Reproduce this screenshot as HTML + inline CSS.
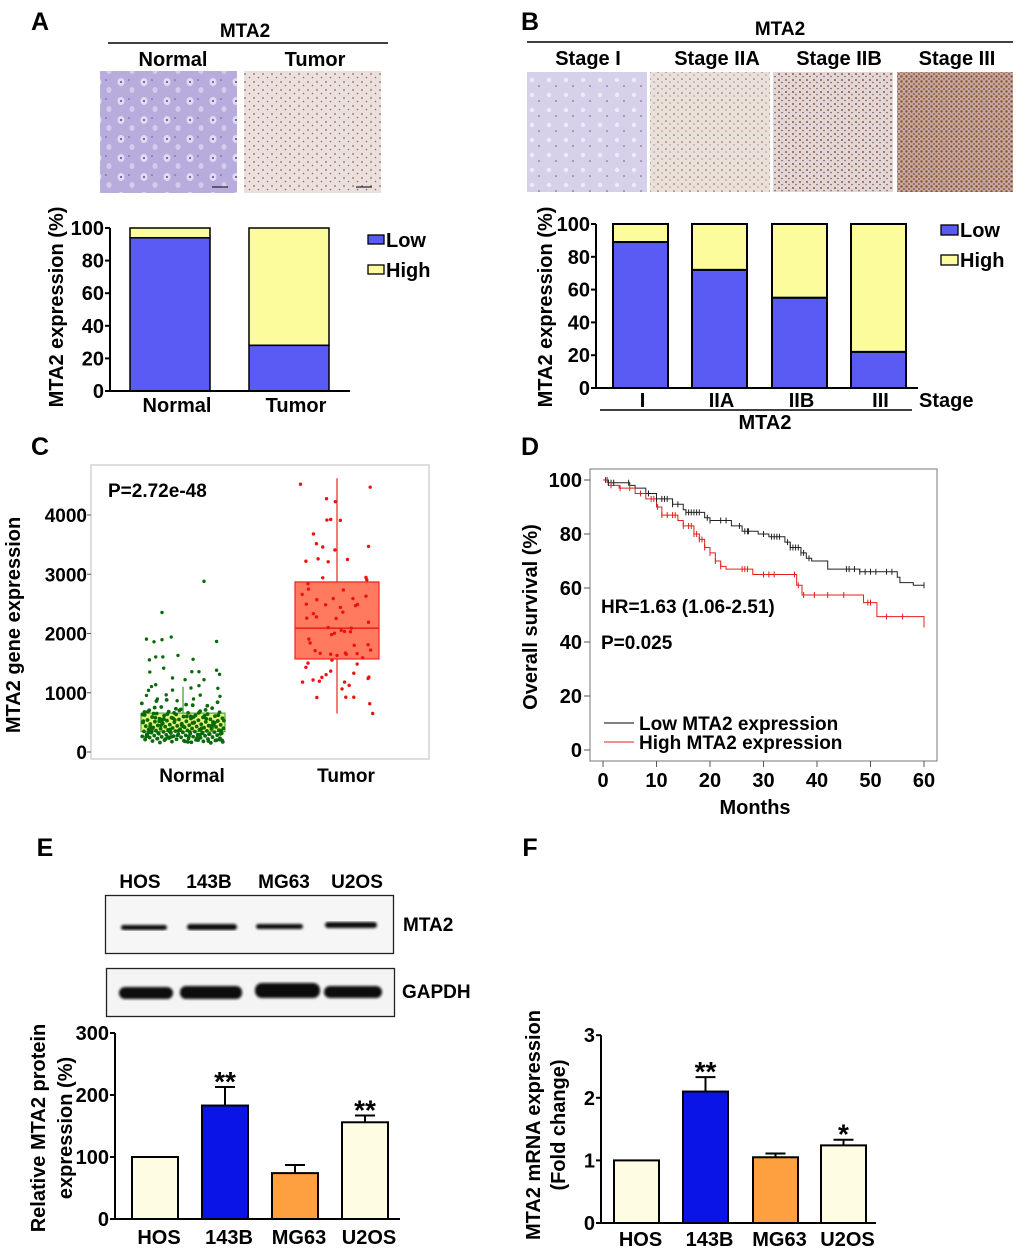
<!DOCTYPE html>
<html><head><meta charset="utf-8"><style>
html,body{margin:0;padding:0;background:#fff;}
svg{display:block;font-family:"Liberation Sans",Arial,sans-serif;font-weight:bold;}
</style></head><body>
<svg id="fig" width="1020" height="1251" viewBox="0 0 1020 1251" xmlns="http://www.w3.org/2000/svg">
<defs>
<pattern id="pNormal" width="23" height="19" patternUnits="userSpaceOnUse"><rect width="23" height="19" fill="#b7acdc"/><ellipse cx="6" cy="6" rx="3.5" ry="4" fill="#e0daf2"/><circle cx="6" cy="6" r="1" fill="#5a4a90"/><ellipse cx="17" cy="14" rx="2.5" ry="3" fill="#d4ccec"/><circle cx="14" cy="4" r="0.8" fill="#6a5aa0"/></pattern>
<pattern id="pTumor" width="9" height="8" patternUnits="userSpaceOnUse"><rect width="9" height="8" fill="#ece0dc"/><circle cx="2" cy="2" r="0.9" fill="#8a6a5a"/><circle cx="6.5" cy="5.5" r="0.8" fill="#7a6a90"/></pattern>
<pattern id="pS1" width="17" height="15" patternUnits="userSpaceOnUse"><rect width="17" height="15" fill="#d6d0ea"/><circle cx="5" cy="5" r="2.2" fill="#eeeaf8"/><circle cx="12" cy="11" r="0.8" fill="#6a5a90"/></pattern>
<pattern id="pS2" width="8" height="7" patternUnits="userSpaceOnUse"><rect width="8" height="7" fill="#eae0da"/><circle cx="2" cy="2" r="0.8" fill="#8a6050"/><circle cx="6" cy="5" r="0.6" fill="#7a6a8a"/></pattern>
<pattern id="pS3" width="7" height="6" patternUnits="userSpaceOnUse"><rect width="7" height="6" fill="#e4d6d2"/><circle cx="2" cy="2" r="1" fill="#8a5a48"/><circle cx="5" cy="4.5" r="0.8" fill="#6a5a8a"/></pattern>
<pattern id="pS4" width="5" height="5" patternUnits="userSpaceOnUse"><rect width="5" height="5" fill="#c8a898"/><circle cx="1.5" cy="1.5" r="1.2" fill="#8a5034"/><circle cx="4" cy="4" r="0.9" fill="#6a4a60"/></pattern>
<filter id="blur1"><feGaussianBlur stdDeviation="1.3"/></filter>
</defs>

<!-- Panel A header -->
<text x="40" y="30" font-size="25" text-anchor="middle">A</text>
<text x="245" y="37" font-size="19" text-anchor="middle">MTA2</text>
<line x1="108" y1="43" x2="388" y2="43" stroke="#000" stroke-width="1.5"/>
<text x="173" y="66" font-size="20" text-anchor="middle">Normal</text>
<text x="315" y="66" font-size="20" text-anchor="middle">Tumor</text>
<rect x="100" y="71" width="137" height="122" fill="url(#pNormal)"/>
<rect x="244" y="71" width="137" height="122" fill="url(#pTumor)"/>
<line x1="212" y1="187" x2="228" y2="187" stroke="#222" stroke-width="1.2"/>
<line x1="356" y1="187" x2="372" y2="187" stroke="#222" stroke-width="1.2"/>
<text transform="translate(63,307) rotate(-90)" font-size="20" text-anchor="middle">MTA2 expression (%)</text>
<g id="chartA"></g>

<!-- Panel B header -->
<text x="530" y="30" font-size="25" text-anchor="middle">B</text>
<text x="780" y="35" font-size="19" text-anchor="middle">MTA2</text>
<line x1="527" y1="42" x2="1013" y2="42" stroke="#000" stroke-width="1.5"/>
<text x="588" y="65" font-size="20" text-anchor="middle">Stage I</text>
<text x="717" y="65" font-size="20" text-anchor="middle">Stage IIA</text>
<text x="839" y="65" font-size="20" text-anchor="middle">Stage IIB</text>
<text x="957" y="65" font-size="20" text-anchor="middle">Stage III</text>
<rect x="527" y="72" width="120" height="120" fill="url(#pS1)"/>
<rect x="650" y="72" width="120" height="120" fill="url(#pS2)"/>
<rect x="773" y="72" width="120" height="120" fill="url(#pS3)"/>
<rect x="897" y="72" width="116" height="120" fill="url(#pS4)"/>
<text transform="translate(552,307) rotate(-90)" font-size="20" text-anchor="middle">MTA2 expression (%)</text>
<g id="chartB"></g>

<!-- Panel C -->
<text x="40" y="455" font-size="25" text-anchor="middle">C</text>
<rect x="91" y="465" width="338" height="294" fill="#fff" stroke="#c8c8c8" stroke-width="1.2"/>
<text x="108" y="497" font-size="19">P=2.72e-48</text>
<text transform="translate(20,625) rotate(-90)" font-size="20" text-anchor="middle">MTA2 gene expression</text>
<g id="chartC"></g>

<!-- Panel D -->
<text x="530" y="455" font-size="25" text-anchor="middle">D</text>
<rect x="590" y="469" width="347" height="292" fill="#fff" stroke="#777" stroke-width="1"/>
<text transform="translate(537,617) rotate(-90)" font-size="20" text-anchor="middle">Overall survival (%)</text>
<text x="755" y="814" font-size="20" text-anchor="middle">Months</text>
<text x="601" y="613" font-size="19">HR=1.63 (1.06-2.51)</text>
<text x="601" y="649" font-size="19">P=0.025</text>
<line x1="604" y1="723" x2="634" y2="723" stroke="#000" stroke-width="1"/>
<text x="639" y="730" font-size="19">Low MTA2 expression</text>
<line x1="604" y1="742" x2="634" y2="742" stroke="#e0201c" stroke-width="1"/>
<text x="639" y="749" font-size="19">High MTA2 expression</text>
<g id="chartD"></g>

<!-- Panel E -->
<text x="45" y="856" font-size="25" text-anchor="middle">E</text>
<text x="140" y="888" font-size="19" text-anchor="middle">HOS</text>
<text x="209" y="888" font-size="19" text-anchor="middle">143B</text>
<text x="284" y="888" font-size="19" text-anchor="middle">MG63</text>
<text x="357" y="888" font-size="19" text-anchor="middle">U2OS</text>
<rect x="105.5" y="895.5" width="288" height="58" fill="#f6f6f6" stroke="#222" stroke-width="1.3"/>
<g filter="url(#blur1)">
<rect x="121" y="925" width="46" height="5" rx="2.5" fill="#111"/>
<rect x="187" y="924" width="50" height="6" rx="3" fill="#111"/>
<rect x="256" y="924" width="47" height="5" rx="2.5" fill="#111"/>
<rect x="325" y="922" width="52" height="6" rx="3" fill="#111"/>
</g>
<text x="403" y="931" font-size="19">MTA2</text>
<rect x="106.5" y="968.5" width="288" height="48" fill="#f4f4f4" stroke="#222" stroke-width="1.3"/>
<g filter="url(#blur1)">
<rect x="119" y="987" width="54" height="12" rx="6" fill="#0a0a0a"/>
<rect x="180" y="986" width="62" height="13" rx="6" fill="#0a0a0a"/>
<rect x="255" y="983" width="65" height="15" rx="7" fill="#0a0a0a"/>
<rect x="324" y="986" width="58" height="12" rx="6" fill="#0a0a0a"/>
</g>
<text x="402" y="998" font-size="19">GAPDH</text>
<text transform="translate(45,1128) rotate(-90)" font-size="20" text-anchor="middle">Relative MTA2 protein</text>
<text transform="translate(72,1128) rotate(-90)" font-size="20" text-anchor="middle">expression (%)</text>
<g id="chartE"></g>

<!-- Panel F -->
<text x="530" y="856" font-size="25" text-anchor="middle">F</text>
<text transform="translate(540,1125) rotate(-90)" font-size="20" text-anchor="middle">MTA2 mRNA expression</text>
<text transform="translate(565,1125) rotate(-90)" font-size="20" text-anchor="middle">(Fold change)</text>
<g id="chartF"></g>
</svg>

<script>
// ---------- data ----------
const aCategories = ["Normal", "Tumor"];
const aLow = [94, 28];
const aTicks = [0, 20, 40, 60, 80, 100];

const bCategories = ["I", "IIA", "IIB", "III"];
const bLow = [89, 72, 55, 22];
const bTicks = [0, 20, 40, 60, 80, 100];

const cTicks = [0, 1000, 2000, 3000, 4000];
const cNormalBox = [343, 480, 657];   // q1, median, q3
const cNormalWhisker = [150, 1100];
const cTumorBox = [1570, 2090, 2870];
const cTumorWhisker = [650, 4620];
const cTumorValues = [4520,4470,4275,4225,3915,3925,3910,3680,3515,3460,3410,3470,3220,3260,3210,3250,2940,2945,2840,2905,2660,2750,2735,2495,2570,2485,2590,2590,2490,2470,2630,2335,2280,2260,2440,2360,2255,2100,2190,1980,2005,2055,2035,2030,2090,1905,1840,1710,1665,1650,1630,1670,1650,1660,1800,1810,1720,1590,1550,1500,1430,1485,1365,1305,1260,1330,1180,1215,1195,1265,1240,1180,1125,1065,920,925,925,815,650];
const cTumorJitter = [-0.87,0.79,-0.25,-0.04,-0.24,-0.15,0.08,-0.56,-0.49,-0.34,-0.05,0.75,-0.74,-0.45,-0.21,0.25,-0.34,0.69,-0.69,0.71,-0.83,-0.68,0.15,-0.73,-0.48,-0.27,-0.09,0.38,0.49,0.44,0.69,-0.56,-0.49,-0.72,0.08,0.14,-0.02,-0.21,0.75,-0.13,-0.06,0.1,0.18,0.32,0.34,-0.67,-0.64,-0.52,-0.4,-0.15,0,0.2,0.22,0.48,0.41,0.74,0.8,0.61,-0.12,-0.69,-0.74,0.48,-0.15,-0.26,-0.36,0.4,-0.82,-0.57,-0.42,0.76,0.74,0.18,0.29,0.12,-0.48,0.21,0.4,0.78,0.85];
const cNormalOutliers = [2880,2355,1905,1860,1895,1940,1865,1630,1555,1605,1605,1565,1350,1415,1355,1355,1380,1310,1250,1220,1220,1135,1105,1120,1080,1040,1045,1075,965,960,955,940,895,865,895];
const cNormalOutlierJitter = [0.5,-0.5,-0.87,-0.69,-0.5,-0.28,0.8,-0.12,-0.8,-0.65,-0.48,0.24,-0.79,-0.46,0.21,0.38,0.8,0.87,-0.25,0.05,0.5,-0.65,-0.75,0.38,0.19,-0.82,-0.25,0.83,-0.4,0.41,-0.87,0.88,-0.61,-0.14,0.25];
const cNormalValues = [820,790,760,740,720,705,690,680,670,660,650,640,635,625,620,612,605,598,590,585,578,570,565,560,552,548,540,535,530,524,518,512,508,502,498,492,488,482,478,472,468,462,458,452,448,444,440,436,430,426,422,418,414,410,405,400,396,392,388,384,380,376,372,368,364,360,356,352,348,344,340,336,332,328,324,320,316,312,308,304,300,296,292,288,284,280,276,272,268,264,260,256,252,248,244,240,236,232,228,224,220,215,210,205,200,195,190,185,180,175,170,165,160,155,700,680,660,640,620,600,580,560,540,520,500,480,460,440,420,400,380,360,340,320,300,280,260,240,220,200,180,650,610,570,530,490,450,410,370,330,290,250,210,170,860,780,730,675,615,555,495,435,375,315,255,195,600,520,440,360,280,200,880,840,800,750,710,660,630,590,545,505,465,425,385,345,305,265,225,185];

const kmLowTimes = [0,1,5,6,8,10,13,15,15.5,19,20,24,26,29,31,34,35,37,38,39,42,48,55,55.5,58,60];
const kmLowSurv  = [100,99,98,97,95,93,91,89,88,86,85,83,81,80,79,77,75,73,71,70,67,66,64,62,61,61];
const kmHighTimes = [0,1,3,6,8,10,11,14,15,17,18,19,20,21,22,23,28,35.3,36.2,37.2,47.4,48.7,51.2,60];
const kmHighSurv  = [100,98,97,95,93,90,87,85,83,80,78,75,73,70,68,67,65,65,61,57.4,57.4,54.6,49.4,46.5];
const kmLowCensor = [0.5,1,1.5,2,4.8,8.5,10,11,11.5,12,13,14,15.5,16,16.5,17,17.5,18,19.5,20,22,23,25.5,26.5,27,27.2,30,31.5,32,32.5,33,34.5,35,35.5,36,36.5,37,37.5,38.5,45.5,46,47,48,49,50,51,53,54,60];
const kmHighCensor = [0.8,1.5,3.2,5,7,9,9.5,10.2,11,12,13,13.5,15,16,16.5,17,17.5,18,18.5,19,20,21,22,26,26.5,27,30,31,32,35.8,36.5,37.5,39.5,42,45,49.5,50,53,56,60];
const dXTicks = [0,10,20,30,40,50,60];
const dYTicks = [0,20,40,60,80,100];

const eCategories = ["HOS","143B","MG63","U2OS"];
const eValues = [100,183,74,156];
const eErrors = [0,30,13,11];
const eStars = ["","**","","**"];
const eTicks = [0,100,200,300];

const fCategories = ["HOS","143B","MG63","U2OS"];
const fValues = [1.0,2.1,1.05,1.24];
const fErrors = [0,0.23,0.06,0.09];
const fStars = ["","**","","*"];
const fTicks = [0,1,2,3];

// ---------- helpers ----------
const NS = "http://www.w3.org/2000/svg";
function mk(tag, attrs, parent) {
  const n = document.createElementNS(NS, tag);
  for (const k in attrs) n.setAttribute(k, attrs[k]);
  parent.appendChild(n);
  return n;
}
function txt(str, attrs, parent) {
  const n = mk("text", attrs, parent);
  n.textContent = str;
  return n;
}
let el;

// ---------- Panel A ----------
(function(){
  const g = document.getElementById("chartA");
  const y = v => 391 - v * 1.63;
  const xs = [130, 249], bw = 80;
  aCategories.forEach((c, i) => {
    el = mk("rect", {x: xs[i], y: y(100), width: bw, height: y(aLow[i]) - y(100), fill: "#fcfc9c", stroke: "#000", "stroke-width": 1.5}, g);
    
    
    el = mk("rect", {x: xs[i], y: y(aLow[i]), width: bw, height: y(0) - y(aLow[i]), fill: "#5a5af5", stroke: "#000", "stroke-width": 1.5}, g);
    
    
    el = txt(c, {x: xs[i] + bw / 2 + 7, y: 412, "font-size": 20, "text-anchor": "middle"}, g);
    
    
  });
  el = mk("path", {d: "M110 " + y(100) + " V391 H350", fill: "none", stroke: "#000", "stroke-width": 2}, g);
  
  
  aTicks.forEach(t => {
    el = mk("line", {x1: 105, x2: 110, y1: y(t), y2: y(t), stroke: "#000", "stroke-width": 2}, g);
    
    
    el = txt(String(t), {x: 104, y: y(t) + 7, "font-size": 20, "text-anchor": "end"}, g);
    
    
  });
  el = mk("rect", {x: 368, y: 235, width: 16, height: 9, fill: "#5a5af5", stroke: "#000", "stroke-width": 1.3}, g);
  
  
  el = txt("Low", {x: 386, y: 247, "font-size": 20}, g);
  
  
  el = mk("rect", {x: 368, y: 265, width: 16, height: 9, fill: "#fcfc9c", stroke: "#000", "stroke-width": 1.3}, g);
  
  
  el = txt("High", {x: 386, y: 277, "font-size": 20}, g);
  
  
})();

// ---------- Panel B ----------
(function(){
  const g = document.getElementById("chartB");
  const y = v => 388 - v * 1.64;
  const xs = [613, 692, 772, 851], bw = 55;
  bCategories.forEach((c, i) => {
    el = mk("rect", {x: xs[i], y: y(100), width: bw, height: y(bLow[i]) - y(100), fill: "#fcfc9c", stroke: "#000", "stroke-width": 2}, g);
    
    
    el = mk("rect", {x: xs[i], y: y(bLow[i]), width: bw, height: y(0) - y(bLow[i]), fill: "#5a5af5", stroke: "#000", "stroke-width": 2}, g);
    
    
    el = txt(c, {x: xs[i] + bw / 2 + 2, y: 407, "font-size": 20, "text-anchor": "middle"}, g);
    
    
  });
  el = mk("path", {d: "M596 " + y(100) + " V388 H918", fill: "none", stroke: "#000", "stroke-width": 2}, g);
  
  
  bTicks.forEach(t => {
    el = mk("line", {x1: 591, x2: 596, y1: y(t), y2: y(t), stroke: "#000", "stroke-width": 2}, g);
    
    
    el = txt(String(t), {x: 590, y: y(t) + 7, "font-size": 20, "text-anchor": "end"}, g);
    
    
  });
  el = txt("Stage", {x: 919, y: 407, "font-size": 20}, g);
  
  
  el = mk("line", {x1: 600, x2: 912, y1: 410, y2: 410, stroke: "#000", "stroke-width": 1.5}, g);
  
  
  el = txt("MTA2", {x: 765, y: 429, "font-size": 20, "text-anchor": "middle"}, g);
  
  
  el = mk("rect", {x: 941, y: 225, width: 17, height: 10, fill: "#5a5af5", stroke: "#000", "stroke-width": 1.3}, g);
  
  
  el = txt("Low", {x: 960, y: 237, "font-size": 20}, g);
  
  
  el = mk("rect", {x: 941, y: 255, width: 17, height: 10, fill: "#fcfc9c", stroke: "#000", "stroke-width": 1.3}, g);
  
  
  el = txt("High", {x: 960, y: 267, "font-size": 20}, g);
  
  
})();

// ---------- Panel C ----------
(function(){
  const g = document.getElementById("chartC");
  const y = v => 752 - v * 0.05925;
  const cx = [183, 337], hw = 42;
  cTicks.forEach(t => {
    el = mk("line", {x1: 87, x2: 91, y1: y(t), y2: y(t), stroke: "#555", "stroke-width": 1}, g);
    
    
    el = txt(String(t), {x: 87, y: y(t) + 7, "font-size": 19, "text-anchor": "end"}, g);
    
    
  });
  ["Normal", "Tumor"].forEach((c, i) => {
    el = txt(c, {x: cx[i] + 9, y: 782, "font-size": 19, "text-anchor": "middle"}, g);
    
    
  });
  el = mk("rect", {x: cx[0] - hw, y: y(cNormalBox[2]), width: hw * 2, height: y(cNormalBox[0]) - y(cNormalBox[2]), fill: "#e4f47a", stroke: "#3a9a2a", "stroke-width": 1}, g);
  
  
  el = mk("line", {x1: cx[0], x2: cx[0], y1: y(cNormalWhisker[1]), y2: y(cNormalBox[2]), stroke: "#3a9a2a", "stroke-width": 1.2}, g);
  
  
  el = mk("rect", {x: cx[1] - hw, y: y(cTumorBox[2]), width: hw * 2, height: y(cTumorBox[0]) - y(cTumorBox[2]), fill: "#ff7a5e", stroke: "#ee2222", "stroke-width": 1.2}, g);
  
  
  el = mk("line", {x1: cx[1], x2: cx[1], y1: y(cTumorWhisker[1]), y2: y(cTumorBox[2]), stroke: "#ee2222", "stroke-width": 1.2}, g);
  
  
  el = mk("line", {x1: cx[1], x2: cx[1], y1: y(cTumorBox[0]), y2: y(cTumorWhisker[0]), stroke: "#ee2222", "stroke-width": 1.2}, g);
  
  
  el = mk("line", {x1: cx[1] - hw, x2: cx[1] + hw, y1: y(cTumorBox[1]), y2: y(cTumorBox[1]), stroke: "#ee2222", "stroke-width": 1.6}, g);
  
  
  cNormalValues.forEach((v, i) => {
    const j = ((i * 0.6180339) % 1) * 2 - 1;
    el = mk("circle", {cx: cx[0] + j * hw * 0.98, cy: y(v), r: 1.9, fill: "#0a6a0a"}, g);
    
    
  });
  cNormalOutliers.forEach((v, i) => {
    el = mk("circle", {cx: cx[0] + cNormalOutlierJitter[i] * hw, cy: y(v), r: 1.7, fill: "#0a6a0a"}, g);
    
    
  });
  cTumorValues.forEach((v, i) => {
    el = mk("circle", {cx: cx[1] + cTumorJitter[i] * hw, cy: y(v), r: 1.7, fill: "#ee1111"}, g);
    
    
  });
})();

// ---------- Panel D ----------
(function(){
  const g = document.getElementById("chartD");
  const x = m => 603 + m * 5.35;
  const y = s => 750 - s * 2.7;
  dYTicks.forEach(t => {
    el = mk("line", {x1: 584, x2: 590, y1: y(t), y2: y(t), stroke: "#555", "stroke-width": 1}, g);
    
    
    el = txt(String(t), {x: 582, y: y(t) + 7, "font-size": 20, "text-anchor": "end"}, g);
    
    
  });
  dXTicks.forEach(t => {
    el = mk("line", {x1: x(t), x2: x(t), y1: 761, y2: 767, stroke: "#555", "stroke-width": 1}, g);
    
    
    el = txt(String(t), {x: x(t), y: 787, "font-size": 20, "text-anchor": "middle"}, g);
    
    
  });
  function stepPath(ts, ss) {
    let d = "M" + x(ts[0]) + " " + y(ss[0]);
    for (let i = 1; i < ts.length; i++) d += " H" + x(ts[i]) + " V" + y(ss[i]);
    return d;
  }
  function survAt(ts, ss, m) {
    let s = ss[0];
    for (let i = 0; i < ts.length; i++) if (ts[i] <= m) s = ss[i];
    return s;
  }
  el = mk("path", {d: stepPath(kmLowTimes, kmLowSurv), fill: "none", stroke: "#222", "stroke-width": 1}, g);
  
  
  el = mk("path", {d: stepPath(kmHighTimes, kmHighSurv), fill: "none", stroke: "#e0201c", "stroke-width": 1}, g);
  
  
  kmLowCensor.forEach(m => {
    const s = survAt(kmLowTimes, kmLowSurv, m);
    el = mk("line", {x1: x(m), x2: x(m), y1: y(s) - 3, y2: y(s) + 3, stroke: "#222", "stroke-width": 1}, g);
    
    
  });
  kmHighCensor.forEach(m => {
    const s = survAt(kmHighTimes, kmHighSurv, m);
    el = mk("line", {x1: x(m), x2: x(m), y1: y(s) - 3, y2: y(s) + 3, stroke: "#e0201c", "stroke-width": 1}, g);
    
    
  });
})();

// ---------- Bar charts E & F ----------
function barChart(gid, cats, vals, errs, stars, ticks, y, axisX, x0s, bw, baseEnd, labelY, prefix) {
  const g = document.getElementById(gid);
  const colors = ["#fffce4", "#0a14e6", "#ffa040", "#fffce4"];
  cats.forEach((c, i) => {
    const cx = x0s[i] + bw / 2;
    if (errs[i] > 0) {
      el = mk("path", {d: "M" + cx + " " + y(vals[i]) + " V" + y(vals[i] + errs[i]) + " M" + (cx - 10) + " " + y(vals[i] + errs[i]) + " H" + (cx + 10), stroke: "#000", "stroke-width": 2, fill: "none"}, g);
      
      
    }
    el = mk("rect", {x: x0s[i], y: y(vals[i]), width: bw, height: y(0) - y(vals[i]), fill: colors[i], stroke: "#000", "stroke-width": 2}, g);
    
    
    if (stars[i]) {
      el = txt(stars[i], {x: cx, y: y(vals[i] + errs[i]) + 4, "font-size": 28, "text-anchor": "middle"}, g);
      
      
    }
    el = txt(c, {x: cx + 4, y: labelY, "font-size": 20, "text-anchor": "middle"}, g);
    
    
  });
  el = mk("path", {d: "M" + axisX + " " + y(ticks[ticks.length - 1]) + " V" + y(0) + " H" + baseEnd, fill: "none", stroke: "#000", "stroke-width": 2}, g);
  
  
  ticks.forEach(t => {
    el = mk("line", {x1: axisX - 5, x2: axisX, y1: y(t), y2: y(t), stroke: "#000", "stroke-width": 2}, g);
    
    
    el = txt(String(t), {x: axisX - 6, y: y(t) + 7, "font-size": 20, "text-anchor": "end"}, g);
    
    
  });
}
barChart("chartE", eCategories, eValues, eErrors, eStars, eTicks, v => 1219 - v * 0.62, 115, [132, 202, 272, 342], 46, 400, 1244, "panel-e");
barChart("chartF", fCategories, fValues, fErrors, fStars, fTicks, v => 1223 - v * 62.6, 601, [614, 683, 753, 821], 45, 876, 1246, "panel-f");
</script>
</body></html>
